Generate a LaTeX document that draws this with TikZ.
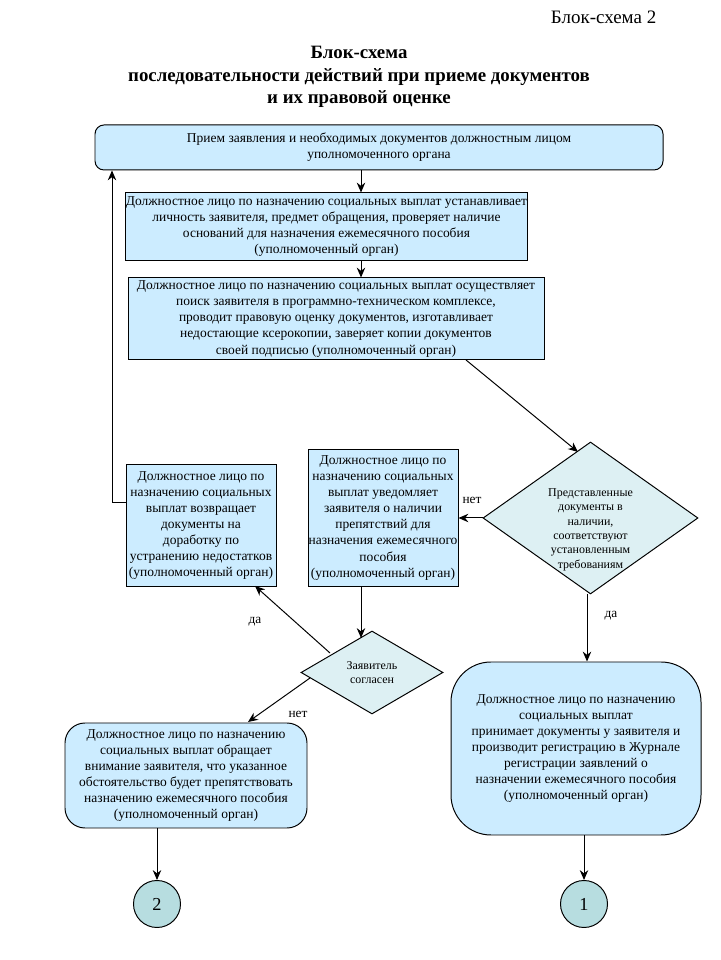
\documentclass[tikz,border=0pt]{standalone}
\usepackage{fontspec}
\setmainfont{Liberation Serif}
\usetikzlibrary{arrows.meta, shapes.geometric, calc}
\definecolor{bfill}{RGB}{204,236,255}
\definecolor{dfill}{RGB}{221,240,243}
\definecolor{cfill}{RGB}{183,221,224}
\newcommand{\bodyfont}{\fontsize{9.6}{11.4}\selectfont}
\newcommand{\smallfont}{\fontsize{8.5}{10.2}\selectfont}
\tikzset{
  % Square action box
  RB/.style={rectangle,draw=black,fill=bfill,minimum width=#1,align=center,
             font=\bodyfont,inner sep=0pt,line width=0.7pt},
  RB/.default=3.75cm,
  % Rounded action box
  SB/.style={RB=#1,rounded corners=0.5cm},
  % Decision diamond
  DC/.style={diamond,draw=black,fill=dfill,font=\smallfont,align=center,
             inner sep=0pt,line width=0.7pt},
  % Page connector circle
  CC/.style={circle,draw=black,fill=cfill,minimum size=1.175cm,
             font=\fontsize{13}{15}\selectfont,inner sep=0pt,line width=0.7pt},
  % Yes/no label
  LB/.style={font=\fontsize{9.5}{11}\selectfont,inner sep=1pt},
  Arr/.style={-{Stealth[length=7pt,width=6pt]},line width=0.7pt,color=black},
}
\begin{document}
\begin{tikzpicture}
  \useasboundingbox (0,0) rectangle (18,24);
  % Heading
  \node[font=\fontsize{13.5}{15}\selectfont] at (15.09,23.575) (hd) {Блок-схема 2};
  \node[font=\fontsize{13.4}{16}\selectfont\bfseries,align=center] at (8.975,22.075) (title)
        {Блок-схема\\
         последовательности действий при приеме документов\\
         и их правовой оценке};
  % Upper boxes
  \node[SB=14.2cm,rounded corners=0.225cm,minimum height=1.125cm] at (9.475,20.3125) (n1)
        {Прием заявления и необходимых документов должностным лицом\\
         уполномоченного органа};
  \node[RB=10.025cm,minimum height=1.7cm] at (8.1625,18.325) (n2)
        {Должностное лицо по назначению социальных выплат устанавливает\\
         личность заявителя, предмет обращения, проверяет наличие\\
         оснований для назначения ежемесячного пособия\\
         (уполномоченный орган)};
  \node[RB=10.4cm,minimum height=2.05cm] at (8.4,16.025) (n3)
        {Должностное лицо по назначению социальных выплат осуществляет\\
         поиск заявителя в программно-техническом комплексе,\\
         проводит правовую оценку документов, изготавливает\\
         недостающие ксерокопии, заверяет копии документов\\
         своей подписью (уполномоченный орган)};
  % Middle row
  \node[RB,minimum height=3.025cm] at (5.025,10.8625) (n4)
        {Должностное лицо по\\
         назначению социальных\\
         выплат возвращает\\
         документы на\\
         доработку по\\
         устранению недостатков\\
         (уполномоченный орган)};
  \node[RB,minimum height=3.4cm] at (9.575,11.05) (n5)
        {Должностное лицо по\\
         назначению социальных\\
         выплат уведомляет\\
         заявителя о наличии\\
         препятствий для\\
         назначения ежемесячного\\
         пособия\\
         (уполномоченный орган)};
  \node[DC,aspect=1.414,inner sep=-5.5pt,minimum width=5.375cm,minimum height=3.8cm]
        at (14.7625,11.05) (d1)
        {~\\[12pt]
         Представленные\\
         документы в\\
         наличии,\\
         соответствуют\\
         установленным\\
         требованиям};
  \node[DC,aspect=1.71,minimum width=3.55cm,minimum height=2.075cm] at (9.3,7.1875) (d2)
        {Заявитель\\
         согласен};
  % Lower boxes
  \node[SB=6.05cm,minimum height=2.625cm] at (4.65,4.6125) (n6)
        {Должностное лицо по назначению\\
         социальных выплат обращает\\
         внимание заявителя, что указанное\\
         обстоятельство будет препятствовать\\
         назначению ежемесячного пособия\\
         (уполномоченный орган)};
  \node[SB=6.25cm,rounded corners=1cm,minimum height=4.325cm] at (14.4,5.2875) (n7)
        {Должностное лицо по назначению\\
         социальных выплат\\
         принимает документы у заявителя и\\
         производит регистрацию в Журнале\\
         регистрации заявлений о\\
         назначении ежемесячного пособия\\
         (уполномоченный орган)};
  \node[CC] at (3.925,1.4) (c2) {2};
  \node[CC] at (14.6,1.4) (c1) {1};
  % Free ends of the connectors
  \coordinate (ax) at (9.025,0);
  \coordinate (ay) at (14.675,0);
  \coordinate (rb) at (2.8,11.425);
  \coordinate (n3o) at (11.65,15);
  \coordinate (d1i) at (14.45,12.7);
  \coordinate (d2i) at (9.025,8.05);
  \coordinate (d2a) at (8.25,7.675);
  \coordinate (n4i) at (6.375,9.35);
  \coordinate (d2b) at (7.75,7.05);
  \coordinate (n6i) at (6.2,5.95);
  % Connectors
  \draw[Arr] (n1.south -| ax) -- (n2.north -| ax);
  \draw[Arr] (n2.south -| ax) -- (n3.north -| ax);
  \draw[Arr] (n3o) -- (d1i);
  \draw[Arr] (d1.west) -- (n5.east);
  \draw[Arr] (d1.south -| ay) -- (n7.north -| ay);
  \draw[Arr] (n5.south -| ax) -- (d2i);
  \draw[Arr] (d2a) -- (n4i);
  \draw[Arr] (d2b) -- (n6i);
  \draw[Arr] (n4.west |- rb) -| (n1.south -| rb);
  \draw[Arr] (n6.south -| c2) -- (c2.north);
  \draw[Arr] (n7.south -| c1) -- (c1.north);
  % Yes/no labels
  \node[LB] at (11.8,11.5) (l1) {нет};
  \node[LB] at (15.275,8.6) (l2) {да};
  \node[LB] at (6.375,8.45) (l3) {да};
  \node[LB] at (7.45,6.15) (l4) {нет};
\end{tikzpicture}
\end{document}
